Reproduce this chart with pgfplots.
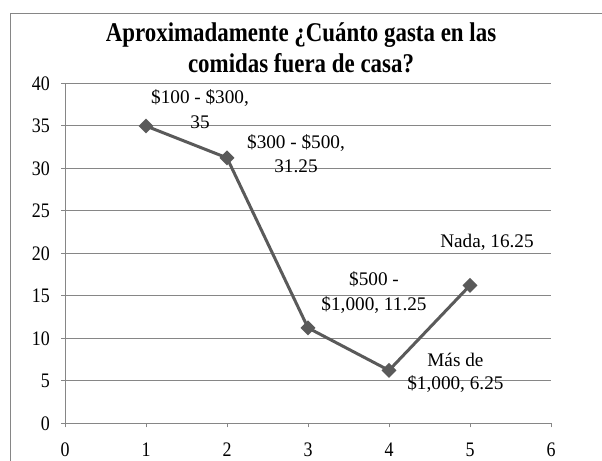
\documentclass[border=0pt]{standalone}
\usepackage{fontspec}
\setmainfont{Liberation Serif}
\usepackage{graphicx}
\usepackage{pgfplots}
\pgfplotsset{compat=1.18}
\definecolor{gridc}{RGB}{134,134,134}
\definecolor{linec}{RGB}{90,90,90}
\newcommand\stk[1]{\scalebox{1}[1.15]{#1}}
\newcommand\stt[1]{\scalebox{1}[1.18]{#1}}
\begin{document}
\begin{tikzpicture}[lbl/.style={font=\fontsize{19.3}{23}\selectfont, anchor=base, inner sep=0}]
\path[use as bounding box] (0,0) rectangle (602bp,461bp);
\draw[gridc, line width=1bp] (10bp,0) -- (10bp,447bp) -- (602bp,447bp);
\node[font=\fontsize{23}{28}\selectfont\bfseries, anchor=base, inner sep=0] at (301bp,419.5bp) {\stt{Aproximadamente ¿Cuánto gasta en las}};
\node[font=\fontsize{23}{28}\selectfont\bfseries, anchor=base, inner sep=0] at (301bp,388bp) {\stt{comidas fuera de casa?}};
\begin{axis}[
  at={(65bp,37.5bp)}, anchor=south west, scale only axis,
  width=486bp, height=340bp,
  xmin=0, xmax=6, ymin=0, ymax=40,
  xtick={0,1,...,6}, ytick={0,5,...,40},
  ymajorgrids, grid style={gridc, line width=1bp},
  axis x line*=bottom, axis y line*=left,
  axis line style={gridc, line width=1bp},
  tick style={gridc, line width=1bp},
  major tick length=4bp, tick align=outside,
  ticklabel style={font=\fontsize{18}{20}\selectfont, inner sep=0},
  xticklabel style={anchor=north, yshift=-15.4bp},
  yticklabel style={anchor=east, xshift=-11bp},
  xticklabel={\stk{\pgfmathprintnumber{\tick}}},
  yticklabel={\stk{\pgfmathprintnumber{\tick}}},
  /pgf/number format/assume math mode=true,
  clip=false,
]
\addplot[linec, line width=3bp, mark=square*, mark size=3.8bp,
  mark options={rotate=45, solid, fill=linec}]
  coordinates {(1,35) (2,31.25) (3,11.25) (4,6.25) (5,16.25)};
\node[lbl] at (axis cs:1.667,37.69) {\$100 - \$300,};
\node[lbl] at (axis cs:1.667,34.76) {35};
\node[lbl] at (axis cs:2.852,32.38) {\$300 - \$500,};
\node[lbl] at (axis cs:2.852,29.48) {31.25};
\node[lbl] at (axis cs:3.815,16.19) {\$500 -};
\node[lbl] at (axis cs:3.815,13.26) {\$1,000, 11.25};
\node[lbl] at (axis cs:4.82,6.72) {Más de};
\node[lbl] at (axis cs:4.82,3.99) {\$1,000, 6.25};
\node[lbl] at (axis cs:5.21,20.65) {Nada, 16.25};
\end{axis}
\end{tikzpicture}
\end{document}
